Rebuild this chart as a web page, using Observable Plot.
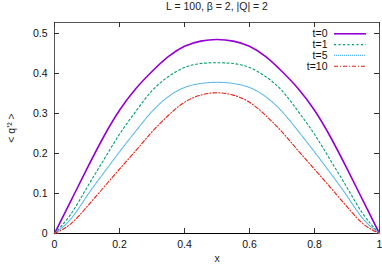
<!DOCTYPE html>
<html>
<head>
<meta charset="utf-8">
<script src="https://cdn.jsdelivr.net/npm/d3@7"></script>
<script src="https://cdn.jsdelivr.net/npm/@observablehq/plot@0.6"></script>
<style>
  html, body { margin: 0; padding: 0; background: white; }
</style>
</head>
<body>
<div id="chart"></div>
<script>
const titleText = "L = 100, β = 2, |Q| = 2";
const xLabel = "x";
const yLabel = "< q'² >";
const seriesNames = ["t=0", "t=1", "t=5", "t=10"];
const xs = [0, 0.05, 0.1, 0.15, 0.2, 0.25, 0.3, 0.35, 0.4, 0.45, 0.5, 0.55, 0.6, 0.65, 0.7, 0.75, 0.8, 0.85, 0.9, 0.95, 1];
const t0 = [0, 0.081, 0.162, 0.24, 0.308, 0.362, 0.405, 0.442, 0.468, 0.481, 0.485, 0.481, 0.468, 0.442, 0.405, 0.362, 0.308, 0.24, 0.162, 0.081, 0];
const t1 = [0, 0.048, 0.115, 0.182, 0.248, 0.305, 0.357, 0.392, 0.415, 0.425, 0.427, 0.425, 0.415, 0.392, 0.357, 0.305, 0.248, 0.182, 0.115, 0.048, 0];
const t5 = [0, 0.036, 0.094, 0.15, 0.204, 0.256, 0.305, 0.342, 0.365, 0.375, 0.378, 0.375, 0.365, 0.342, 0.305, 0.256, 0.204, 0.15, 0.094, 0.036, 0];
const t10 = [0, 0.024, 0.067, 0.114, 0.161, 0.207, 0.254, 0.295, 0.328, 0.346, 0.352, 0.346, 0.328, 0.295, 0.254, 0.207, 0.161, 0.114, 0.067, 0.024, 0];
const xTicks = [0, 0.2, 0.4, 0.6, 0.8, 1];
const yTicks = [0, 0.1, 0.2, 0.3, 0.4, 0.5];

const values = [t0, t1, t5, t10];
const colors = ["#9400d3", "#009e73", "#56b4e9", "#e51e10"];
const dashes = [null, "2,2.5", "1,1", "4,2,1,2"];
const widths = [1.6, 1.1, 1.1, 1.1];

const W = 382, H = 265;
const mL = 54, mR = 3, mT = 22, mB = 32;
const yMax = 0.5275;
const pxPerY = (H - mT - mB) / yMax;
const pxToY = (py) => yMax - (py - mT) / pxPerY;

const marks = [];
marks.push(Plot.frame({stroke: "#555", strokeWidth: 1}));
marks.push(Plot.ruleY([0], {stroke: "black", strokeWidth: 1}));
marks.push(Plot.tickY(yTicks, {y: d => d, insetRight: W - mL - mR - 5, stroke: "#333"}));
marks.push(Plot.tickY(yTicks, {y: d => d, insetLeft: W - mL - mR - 5, stroke: "#333"}));
marks.push(Plot.tickX(xTicks, {x: d => d, insetTop: H - mT - mB - 5, stroke: "#333"}));
marks.push(Plot.tickX(xTicks, {x: d => d, insetBottom: H - mT - mB - 5, stroke: "#333"}));
marks.push(Plot.axisY({ticks: yTicks, tickSize: 0, tickPadding: 7, label: null, tickFormat: d => d === 0 ? "0" : d.toFixed(1), fill: "#111"}));
marks.push(Plot.axisX({ticks: xTicks, tickSize: 0, tickPadding: 7, label: null, tickFormat: d => (d === 0 || d === 1) ? String(d) : d.toFixed(1), fill: "#111"}));

values.forEach((vals, i) => {
  const rows = xs.map((x, j) => ({x, y: vals[j]}));
  marks.push(Plot.line(rows, {x: "x", y: "y", stroke: colors[i], strokeWidth: widths[i], strokeDasharray: dashes[i], curve: "natural"}));
  const rowPx = 33.3 + 10.8 * i;
  marks.push(Plot.text([seriesNames[i]], {frameAnchor: "top-right", dx: -52, dy: rowPx - mT, lineAnchor: "middle", textAnchor: "end", fill: "#111", fontSize: 10.5}));
  marks.push(Plot.ruleY([pxToY(rowPx)], {insetLeft: 334 - mL, insetRight: W - mR - 366, stroke: colors[i], strokeWidth: widths[i], strokeDasharray: dashes[i]}));
});

marks.push(Plot.text([titleText], {frameAnchor: "top", dy: -16, lineAnchor: "middle", fill: "#222", fontSize: 10.5}));
marks.push(Plot.text([xLabel], {frameAnchor: "bottom", dy: 25.5, lineAnchor: "middle", fill: "#222", fontSize: 10.5}));
marks.push(Plot.text([yLabel], {frameAnchor: "left", dx: -43, rotate: -90, lineAnchor: "middle", textAnchor: "middle", fill: "#222", fontSize: 10.5}));

const chart = Plot.plot({
  width: W,
  height: H,
  marginLeft: mL,
  marginRight: mR,
  marginTop: mT,
  marginBottom: mB,
  x: {domain: [0, 1]},
  y: {domain: [0, yMax]},
  style: {fontFamily: "'Liberation Sans', Arial, sans-serif", fontSize: "10.5px", background: "white"},
  marks
});
document.getElementById("chart").appendChild(chart);
</script>
</body>
</html>
